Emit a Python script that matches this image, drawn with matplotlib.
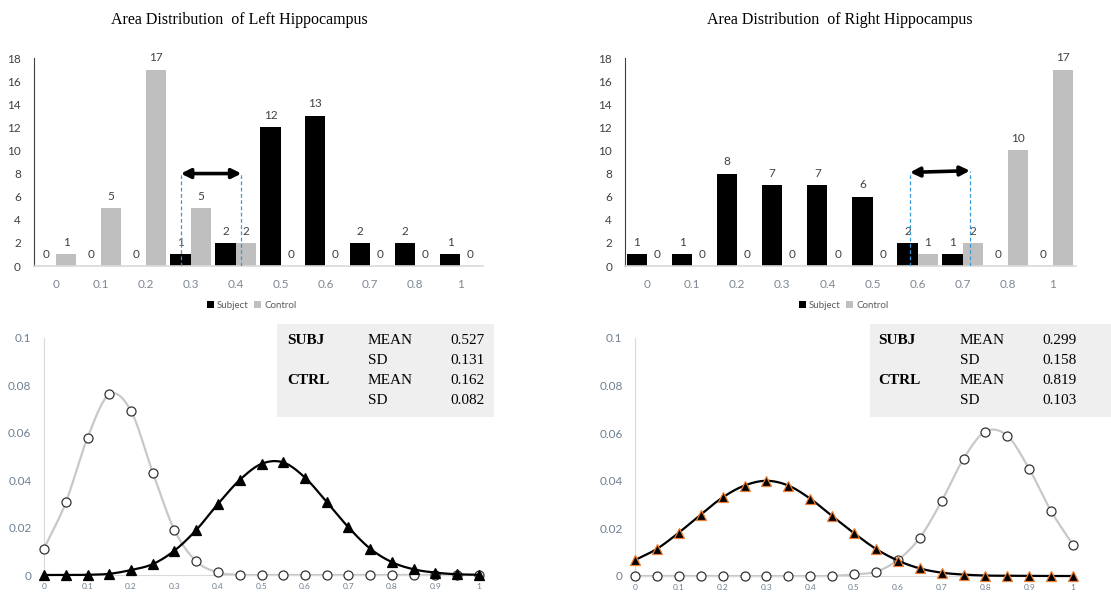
import numpy as np
import matplotlib
matplotlib.use("Agg")
import matplotlib.pyplot as plt

# ---- histogram data ----
bins = ["0", "0.1", "0.2", "0.3", "0.4", "0.5", "0.6", "0.7", "0.8", "1"]
left_subject = [0, 0, 0, 1, 2, 12, 13, 2, 2, 1]
left_control = [1, 5, 17, 5, 2, 0, 0, 0, 0, 0]
right_subject = [1, 1, 8, 7, 7, 6, 2, 1, 0, 0]
right_control = [0, 0, 0, 0, 0, 0, 1, 2, 10, 17]

# ---- fitted distribution points ----
xs = [0.0, 0.05, 0.1, 0.15, 0.2, 0.25, 0.3, 0.35, 0.4, 0.45, 0.5,
      0.55, 0.6, 0.65, 0.7, 0.75, 0.8, 0.85, 0.9, 0.95, 1.0]
left_ctrl_pts = [0.0111, 0.0306, 0.0579, 0.0762, 0.0692, 0.0432, 0.0189, 0.0058,
                 0.0011, 0.0001, 0, 0, 0, 0, 0, 0, 0, 0, 0, 0, 0]
left_subj_pts = [0.0, 0.0, 0.0001, 0.0005, 0.0021, 0.0046, 0.0103, 0.0190, 0.0300,
                 0.0401, 0.0469, 0.0475, 0.0411, 0.0308, 0.0201, 0.0111, 0.0054,
                 0.0024, 0.0010, 0.0003, 0.0001]
right_subj_pts = [0.0067, 0.0114, 0.0182, 0.0258, 0.0330, 0.0380, 0.0400, 0.0380,
                  0.0325, 0.0252, 0.0180, 0.0114, 0.0065, 0.0032, 0.0014, 0.0006,
                  0.0002, 0.0001, 0, 0, 0]
right_ctrl_pts = [0, 0, 0, 0, 0, 0, 0, 0, 0, 0, 0.0007, 0.0018, 0.0067, 0.0160,
                  0.0314, 0.0492, 0.0607, 0.0589, 0.0450, 0.0273, 0.0130]

left_stats = [("SUBJ", "MEAN", "0.527"), ("", "SD", "0.131"),
              ("CTRL", "MEAN", "0.162"), ("", "SD", "0.082")]
right_stats = [("SUBJ", "MEAN", "0.299"), ("", "SD", "0.158"),
               ("CTRL", "MEAN", "0.819"), ("", "SD", "0.103")]

SANS = "Lato"
SERIF = "Liberation Serif"
W, H = 1111, 594


def rect(x0, y_top, x1, y_bot):
    # pixel box -> figure fraction
    return [x0 / W, 1 - y_bot / H, (x1 - x0) / W, (y_bot - y_top) / H]


def smooth(x, y, n=20):
    # catmull-rom rendering of the line, like Excel's smoothed line
    x = np.asarray(x, float)
    y = np.asarray(y, float)
    px = np.concatenate([[2 * x[0] - x[1]], x, [2 * x[-1] - x[-2]]])
    py = np.concatenate([[2 * y[0] - y[1]], y, [2 * y[-1] - y[-2]]])
    t = np.linspace(0, 1, n, endpoint=False)
    ox, oy = [], []
    for i in range(1, len(px) - 2):
        for p, o in ((px, ox), (py, oy)):
            p0, p1, p2, p3 = p[i - 1], p[i], p[i + 1], p[i + 2]
            o.extend(0.5 * (2 * p1 + (-p0 + p2) * t
                            + (2 * p0 - 5 * p1 + 4 * p2 - p3) * t ** 2
                            + (-p0 + 3 * p1 - 3 * p2 + p3) * t ** 3))
    ox.append(x[-1])
    oy.append(y[-1])
    return np.array(ox), np.array(oy)


def bar_chart(ax, subj, ctrl, arrow, title_x, title):
    idx = np.arange(len(bins))
    w = 0.45
    b1 = ax.bar(idx - w / 2, subj, w, color="black", label="Subject", zorder=2)
    b2 = ax.bar(idx + w / 2, ctrl, w, color="#bfbfbf", label="Control", zorder=2)
    for bars, vals in ((b1, subj), (b2, ctrl)):
        for r, v in zip(bars, vals):
            ax.annotate(str(v), (r.get_x() + r.get_width() / 2, v),
                        xytext=(0, 8.5), textcoords="offset points",
                        ha="center", va="center", fontsize=8.5,
                        color="#404040", family=SANS)
    ax.set_xlim(-0.5, 9.5)
    ax.set_ylim(0, 18)
    ax.set_yticks(range(0, 19, 2))
    ax.set_xticks(idx)
    ax.set_xticklabels(bins)
    ax.tick_params(length=0, labelsize=8.5)
    ax.tick_params(axis="y", pad=9, labelcolor="#404040")
    ax.tick_params(axis="x", pad=9, labelcolor="#7f8791")
    for lab in ax.get_xticklabels() + ax.get_yticklabels():
        lab.set_family(SANS)
    for s in ("top", "right"):
        ax.spines[s].set_visible(False)
    ax.spines["left"].set_color("#404040")
    ax.spines["bottom"].set_color("#d9d9d9")
    ax.spines["bottom"].set_linewidth(1.2)
    (xa, ya), (xb, yb) = arrow
    for xv, yv in ((xa, ya), (xb, yb)):
        ax.plot([xv, xv], [0, yv], ls=(0, (3, 2)), lw=0.9, color="#3a9ad9",
                zorder=3)
    ax.annotate("", xy=(xb, yb), xytext=(xa, ya),
                arrowprops=dict(arrowstyle="<|-|>", lw=2.6, color="black",
                                mutation_scale=14, shrinkA=0, shrinkB=0),
                zorder=4)
    ax.legend(loc="center", bbox_to_anchor=(0.486, -0.19), ncol=2,
              frameon=False, handlelength=0.7, handleheight=0.7,
              handletextpad=0.3, columnspacing=0.6,
              prop={"family": SANS, "size": 7}, labelcolor="#595959")
    ax.figure.text(title_x / W, 1 - 20 / H, title, ha="center", va="center",
                   family=SERIF, fontsize=11.5, color="black")


def dist_chart(ax, ctrl, subj, tri_edge, stats, box, cols):
    cx, cy = smooth(xs, ctrl)
    ax.plot(cx, cy, color="#c8c8c8", lw=1.6, zorder=2, clip_on=False)
    ax.plot(xs, ctrl, ls="none", marker="o", ms=6.5, mfc="white",
            mec="#333333", mew=0.9, zorder=3, clip_on=False)
    sx, sy = smooth(xs, subj)
    ax.plot(sx, sy, color="black", lw=1.6, zorder=4, clip_on=False)
    ax.plot(xs, subj, ls="none", marker="^", ms=6.5, mfc="black",
            mec=tri_edge, mew=0.9, zorder=5, clip_on=False)
    ax.set_xlim(0, 1)
    ax.set_ylim(0, 0.1)
    ax.set_xticks(np.arange(0, 1.01, 0.1))
    ax.set_xticklabels(["0", "0.1", "0.2", "0.3", "0.4", "0.5", "0.6", "0.7",
                        "0.8", "0.9", "1"])
    ax.set_yticks([0, 0.02, 0.04, 0.06, 0.08, 0.1])
    ax.set_yticklabels(["0", "0.02", "0.04", "0.06", "0.08", "0.1"])
    ax.tick_params(length=0)
    ax.tick_params(axis="y", labelsize=8.5, pad=9, labelcolor="#6f7f8f")
    ax.tick_params(axis="x", labelsize=6, pad=6, labelcolor="#6f7f8f")
    for lab in ax.get_xticklabels() + ax.get_yticklabels():
        lab.set_family(SANS)
    for s in ("top", "right"):
        ax.spines[s].set_visible(False)
    ax.spines["left"].set_color("#d9d9d9")
    ax.spines["bottom"].set_color("#d9d9d9")
    # stats box
    x0, y0, x1, y1 = box
    fig = ax.figure
    fig.patches.append(plt.Rectangle((x0 / W, 1 - y1 / H), (x1 - x0) / W,
                                     (y1 - y0) / H, transform=fig.transFigure,
                                     facecolor="#efefef", edgecolor="none",
                                     zorder=0))
    rows_y = [340, 360.5, 381, 401]
    for (g, m, v), ry in zip(stats, rows_y):
        fig.text(cols[0] / W, 1 - ry / H, g, family=SERIF, weight="bold",
                 fontsize=11, va="center", ha="left")
        fig.text(cols[1] / W, 1 - ry / H, m, family=SERIF, fontsize=11,
                 va="center", ha="left")
        fig.text(cols[2] / W, 1 - ry / H, v, family=SERIF, fontsize=11,
                 va="center", ha="left")


fig = plt.figure(figsize=(W / 100, H / 100), dpi=100)

ax1 = fig.add_axes(rect(33.5, 58, 482.6, 266))
bar_chart(ax1, left_subject, left_control, ((2.78, 8.0), (4.13, 8.0)),
          239.5, "Area Distribution  of Left Hippocampus")

ax2 = fig.add_axes(rect(624.5, 58, 1075.5, 266))
bar_chart(ax2, right_subject, right_control, ((5.83, 8.1), (7.16, 8.25)),
          840, "Area Distribution  of Right Hippocampus")

ax3 = fig.add_axes(rect(44, 338, 479, 575))
dist_chart(ax3, left_ctrl_pts, left_subj_pts, "black", left_stats,
           (277, 324, 494, 417), (287, 368, 450))

ax4 = fig.add_axes(rect(635, 338, 1073, 576))
dist_chart(ax4, right_ctrl_pts, right_subj_pts, "#ed7d31", right_stats,
           (870, 324, 1111, 417), (878, 960, 1042))

fig.savefig("out.png", dpi=100)
